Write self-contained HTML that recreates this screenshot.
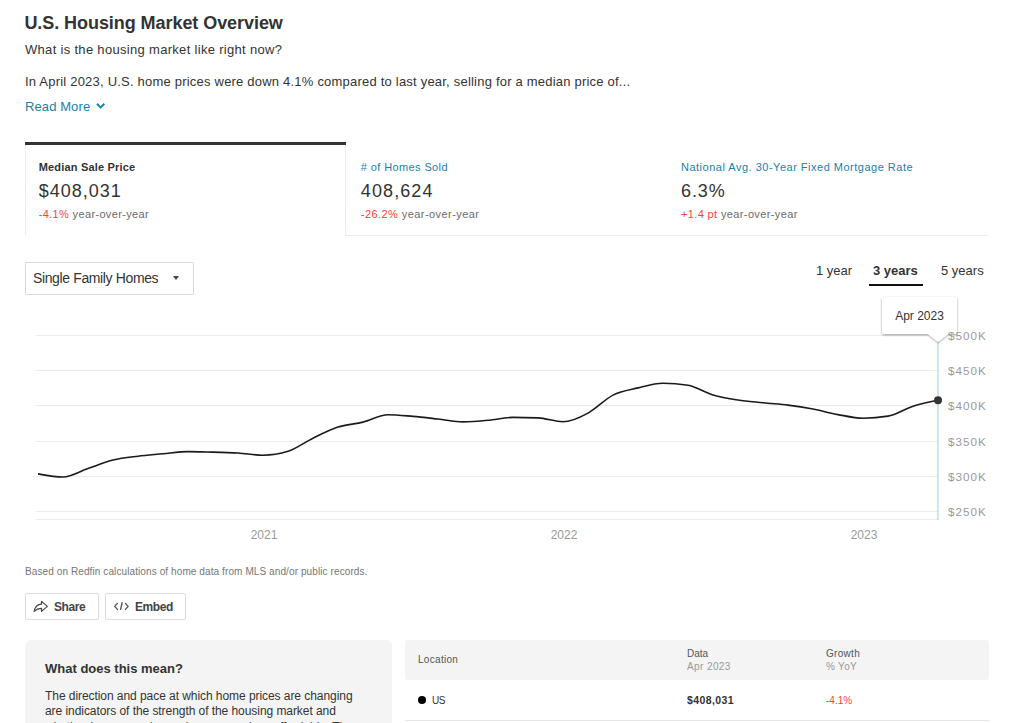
<!DOCTYPE html>
<html><head><meta charset="utf-8">
<style>
*{box-sizing:border-box;margin:0;padding:0}
html,body{width:1023px;height:723px;overflow:hidden;background:#fff}
body{font-family:"Liberation Sans",Arial,sans-serif;color:#333;position:relative}
.a{position:absolute;white-space:nowrap}
h1{position:absolute;left:24.4px;top:12px;font-size:18px;font-weight:bold;color:#333;line-height:22px;white-space:nowrap;letter-spacing:-0.06px}
.sub{left:25px;top:42px;font-size:13px;line-height:16px;letter-spacing:0.31px}
.para{left:25px;top:74px;font-size:13px;line-height:16px;letter-spacing:0.21px}
.rm{left:25px;top:99px;font-size:13px;line-height:16px;color:#1b7fab;letter-spacing:0.1px}
.tabbar{left:25px;top:142px;width:321px;height:3px;background:#333}
.tabl{left:25px;top:145px;width:1px;height:90px;background:#ececec}
.tabr{left:345px;top:145px;width:1px;height:91px;background:#ececec}
.tabb{left:345px;top:235px;width:644px;height:1px;background:#ececec}
.tl{font-size:11px;line-height:14px;top:160px}
.tv{font-size:18px;line-height:22px;top:180px;color:#333}
.tc{font-size:11px;line-height:14px;top:207px;color:#6b6b6b}
.red{color:#f63f3d}
.blue{color:#1b7fab}
.dd{left:25px;top:262px;width:169px;height:33px;border:1px solid #d9d9d9;border-radius:1px}
.dd span{position:absolute;left:7px;top:7px;font-size:14px;line-height:17px;color:#333;letter-spacing:-0.37px}
.tri{position:absolute;left:147px;top:12.5px;width:0;height:0;border-left:3.5px solid transparent;border-right:3.5px solid transparent;border-top:4px solid #444}
.rng{top:263px;font-size:13px;line-height:16px;color:#333}
.note{left:25px;top:566px;font-size:10px;line-height:12px;color:#767676;letter-spacing:0.1px}
.btn{top:593px;height:27px;border:1px solid #dcdcdc;border-radius:2px}
.btn span{position:absolute;top:6px;font-size:12px;line-height:14px;font-weight:bold;color:#444;letter-spacing:-0.45px}
.card{left:25px;top:640px;width:367px;height:100px;background:#f4f4f4;border-radius:6px}
.card h3{position:absolute;left:20px;top:21px;font-size:13px;line-height:16px;font-weight:bold;color:#333;white-space:nowrap}
.card p{position:absolute;left:20px;top:49.3px;font-size:12px;line-height:15.15px;color:#333;white-space:nowrap;letter-spacing:-0.06px}
.thead{left:405px;top:640px;width:584px;height:40px;background:#f4f4f4;border-radius:3px}
.th{font-size:10px;line-height:13px;color:#555}
.tg{color:#999}
.trow{left:405px;top:680px;width:584px;height:41px;border-bottom:1px solid #e6e6e6}
</style></head><body>
<h1>U.S. Housing Market Overview</h1>
<div class="a sub">What is the housing market like right now?</div>
<div class="a para">In April 2023, U.S. home prices were down 4.1% compared to last year, selling for a median price of...</div>
<div class="a rm">Read More</div>
<svg class="a" style="left:94px;top:100px" width="14" height="12" viewBox="94 100 14 12"><path d="M96.9,103.8 L100.6,107.4 L104.3,103.8" fill="none" stroke="#1b7fab" stroke-width="1.9"/></svg>

<div class="a tabbar"></div><div class="a tabl"></div><div class="a tabr"></div><div class="a tabb"></div>
<div class="a tl" style="left:38.7px;font-weight:bold;color:#333;letter-spacing:0.18px">Median Sale Price</div>
<div class="a tv" style="left:38.7px;letter-spacing:1px">$408,031</div>
<div class="a tc" style="left:38.7px;letter-spacing:0.35px"><span class="red">-4.1%</span> year-over-year</div>
<div class="a tl blue" style="left:360.8px;letter-spacing:0.39px"># of Homes Sold</div>
<div class="a tv" style="left:360.8px;letter-spacing:1.1px">408,624</div>
<div class="a tc" style="left:360.8px;letter-spacing:0.44px"><span class="red">-26.2%</span> year-over-year</div>
<div class="a tl blue" style="left:681px;letter-spacing:0.5px">National Avg. 30-Year Fixed Mortgage Rate</div>
<div class="a tv" style="left:681px;letter-spacing:0.9px">6.3%</div>
<div class="a tc" style="left:681px;letter-spacing:0.37px"><span class="red">+1.4 pt</span> year-over-year</div>

<div class="a dd"><span>Single Family Homes</span><i class="tri"></i></div>
<div class="a rng" style="left:816px">1 year</div>
<div class="a rng" style="left:873px;font-weight:bold">3 years</div>
<div class="a rng" style="left:941px">5 years</div>
<div class="a" style="left:869px;top:284px;width:54px;height:2px;background:#111"></div>

<svg class="a" style="left:0;top:0" width="1023" height="560" viewBox="0 0 1023 560">
 <g stroke="#ececec" stroke-width="1">
  <line x1="36" x2="938" y1="335.5" y2="335.5"/>
  <line x1="36" x2="938" y1="370.5" y2="370.5"/>
  <line x1="36" x2="938" y1="405.5" y2="405.5"/>
  <line x1="36" x2="938" y1="441.5" y2="441.5"/>
  <line x1="36" x2="938" y1="476.5" y2="476.5"/>
  <line x1="36" x2="938" y1="511.5" y2="511.5"/>
  <line x1="36" x2="938" y1="519.5" y2="519.5"/>
 </g>

 <g font-family="Liberation Sans, Arial, sans-serif" font-size="12" fill="#9a9a9a">
  <text x="264" y="539" text-anchor="middle">2021</text>
  <text x="564" y="539" text-anchor="middle">2022</text>
  <text x="864" y="539" text-anchor="middle">2023</text>
 </g>
 <line x1="938" x2="938" y1="338" y2="520" stroke="#98d1e5" stroke-width="1"/>
 <path d="M38.0,473.9C46.3,475.4,54.7,477.0,63.0,477.0C71.3,477.0,79.7,471.3,88.0,468.5C96.3,465.7,104.7,462.1,113.0,460.0C121.3,457.9,129.7,457.2,138.0,456.2C146.3,455.2,154.7,454.6,163.0,453.8C171.3,453.0,179.7,451.6,188.0,451.6C196.3,451.6,204.7,451.9,213.0,452.1C221.3,452.3,229.7,452.5,238.0,453.0C246.3,453.5,254.7,455.2,263.0,455.2C271.3,455.2,279.7,453.9,288.0,451.3C296.3,448.7,304.7,442.2,313.0,438.2C321.3,434.1,329.7,429.7,338.0,427.0C346.3,424.3,354.7,424.2,363.0,422.1C371.3,420.1,379.7,414.7,388.0,414.7C396.3,414.7,404.7,415.7,413.0,416.4C421.3,417.1,429.7,418.1,438.0,419.0C446.3,419.9,454.7,421.9,463.0,421.9C471.3,421.9,479.7,421.1,488.0,420.3C496.3,419.6,504.7,417.4,513.0,417.4C521.3,417.4,529.7,417.6,538.0,417.9C546.3,418.2,554.7,421.8,563.0,421.8C571.3,421.8,579.7,417.6,588.0,413.1C596.3,408.7,604.7,399.3,613.0,395.1C621.3,390.9,629.7,389.9,638.0,387.9C646.3,385.9,654.7,383.3,663.0,383.3C671.3,383.3,679.7,384.0,688.0,385.3C696.3,386.6,704.7,392.6,713.0,395.0C721.3,397.4,729.7,398.7,738.0,400.0C746.3,401.3,754.7,401.9,763.0,402.8C771.3,403.7,779.7,404.1,788.0,405.1C796.3,406.1,804.7,407.4,813.0,409.0C821.3,410.6,829.7,413.1,838.0,414.6C846.3,416.1,854.7,418.2,863.0,418.2C871.3,418.2,879.7,417.5,888.0,416.1C896.3,414.7,904.7,408.8,913.0,406.2C921.3,403.6,929.7,401.9,938.0,400.3" fill="none" stroke="#1a1a1a" stroke-width="1.6"/>
 <circle cx="938" cy="400.3" r="4" fill="#333"/>
 <defs><filter id="sh" x="-20%" y="-30%" width="140%" height="160%"><feGaussianBlur in="SourceAlpha" stdDeviation="1.1"/><feOffset dx="-0.3" dy="0.8" result="b"/><feComponentTransfer in="b" result="c"><feFuncA type="linear" slope="0.4"/></feComponentTransfer><feMerge><feMergeNode in="c"/><feMergeNode in="SourceGraphic"/></feMerge></filter></defs>
 <path d="M884,297 H955 Q957,297 957,299 V334 H948 L938,342 L928,334 H884 Q882,334 882,332 V299 Q882,297 884,297 Z" fill="#fff" filter="url(#sh)"/>
 <text x="919.5" y="320" text-anchor="middle" font-family="Liberation Sans, Arial, sans-serif" font-size="12" fill="#333">Apr 2023</text>
 <g font-family="Liberation Sans, Arial, sans-serif" font-size="11.7" fill="#9a9a9a" letter-spacing="1">
  <text x="948" y="340">$500K</text>
  <text x="948" y="375">$450K</text>
  <text x="948" y="410">$400K</text>
  <text x="948" y="445.5">$350K</text>
  <text x="948" y="481">$300K</text>
  <text x="948" y="516">$250K</text>
 </g>
</svg>

<div class="a note">Based on Redfin calculations of home data from MLS and/or public records.</div>
<div class="a btn" style="left:25px;width:74px"><span style="left:28px">Share</span></div>
<div class="a btn" style="left:105px;width:81px"><span style="left:29px">Embed</span></div>
<svg class="a" style="left:0;top:590px" width="200" height="30" viewBox="0 590 200 30">
 <path d="M34.1,611.4 C35,607 38,604.3 41.5,604.2 V601.4 L47.4,606.4 L41.5,611.4 V608.3 C38.5,608.2 36,609.5 34.1,611.4 Z" fill="none" stroke="#444" stroke-width="1.2" stroke-linejoin="round"/>
 <g fill="none" stroke="#555" stroke-width="1.4" stroke-linecap="round" stroke-linejoin="round">
  <path d="M117.4,603.4 L114.7,606.4 L117.4,609.4"/>
  <path d="M122.1,602.8 L120.6,609.3"/>
  <path d="M125.4,603.4 L128.1,606.4 L125.4,609.4"/>
 </g>
</svg>

<div class="a card"><h3>What does this mean?</h3><p>The direction and pace at which home prices are changing<br>are indicators of the strength of the housing market and<br>whether homes are becoming more or less affordable. The</p></div>

<div class="a thead">
 <div class="a th" style="left:13px;top:13px;letter-spacing:0.3px">Location</div>
 <div class="a th" style="left:282px;top:7px">Data<br><span class="tg" style="letter-spacing:0.4px">Apr 2023</span></div>
 <div class="a th" style="left:421px;top:7px;letter-spacing:0.3px">Growth<br><span class="tg">% YoY</span></div>
</div>
<div class="a trow">
 <div class="a" style="left:13px;top:16px;width:8px;height:8px;border-radius:50%;background:#000"></div>
 <div class="a th" style="left:27px;top:14px;color:#333;letter-spacing:-0.5px">US</div>
 <div class="a th" style="left:282px;top:14px;font-weight:bold;color:#333;font-size:10.5px;letter-spacing:0.4px">$408,031</div>
 <div class="a th" style="left:421px;top:14px;color:#f63f3d">-4.1%</div>
</div>
</body></html>
